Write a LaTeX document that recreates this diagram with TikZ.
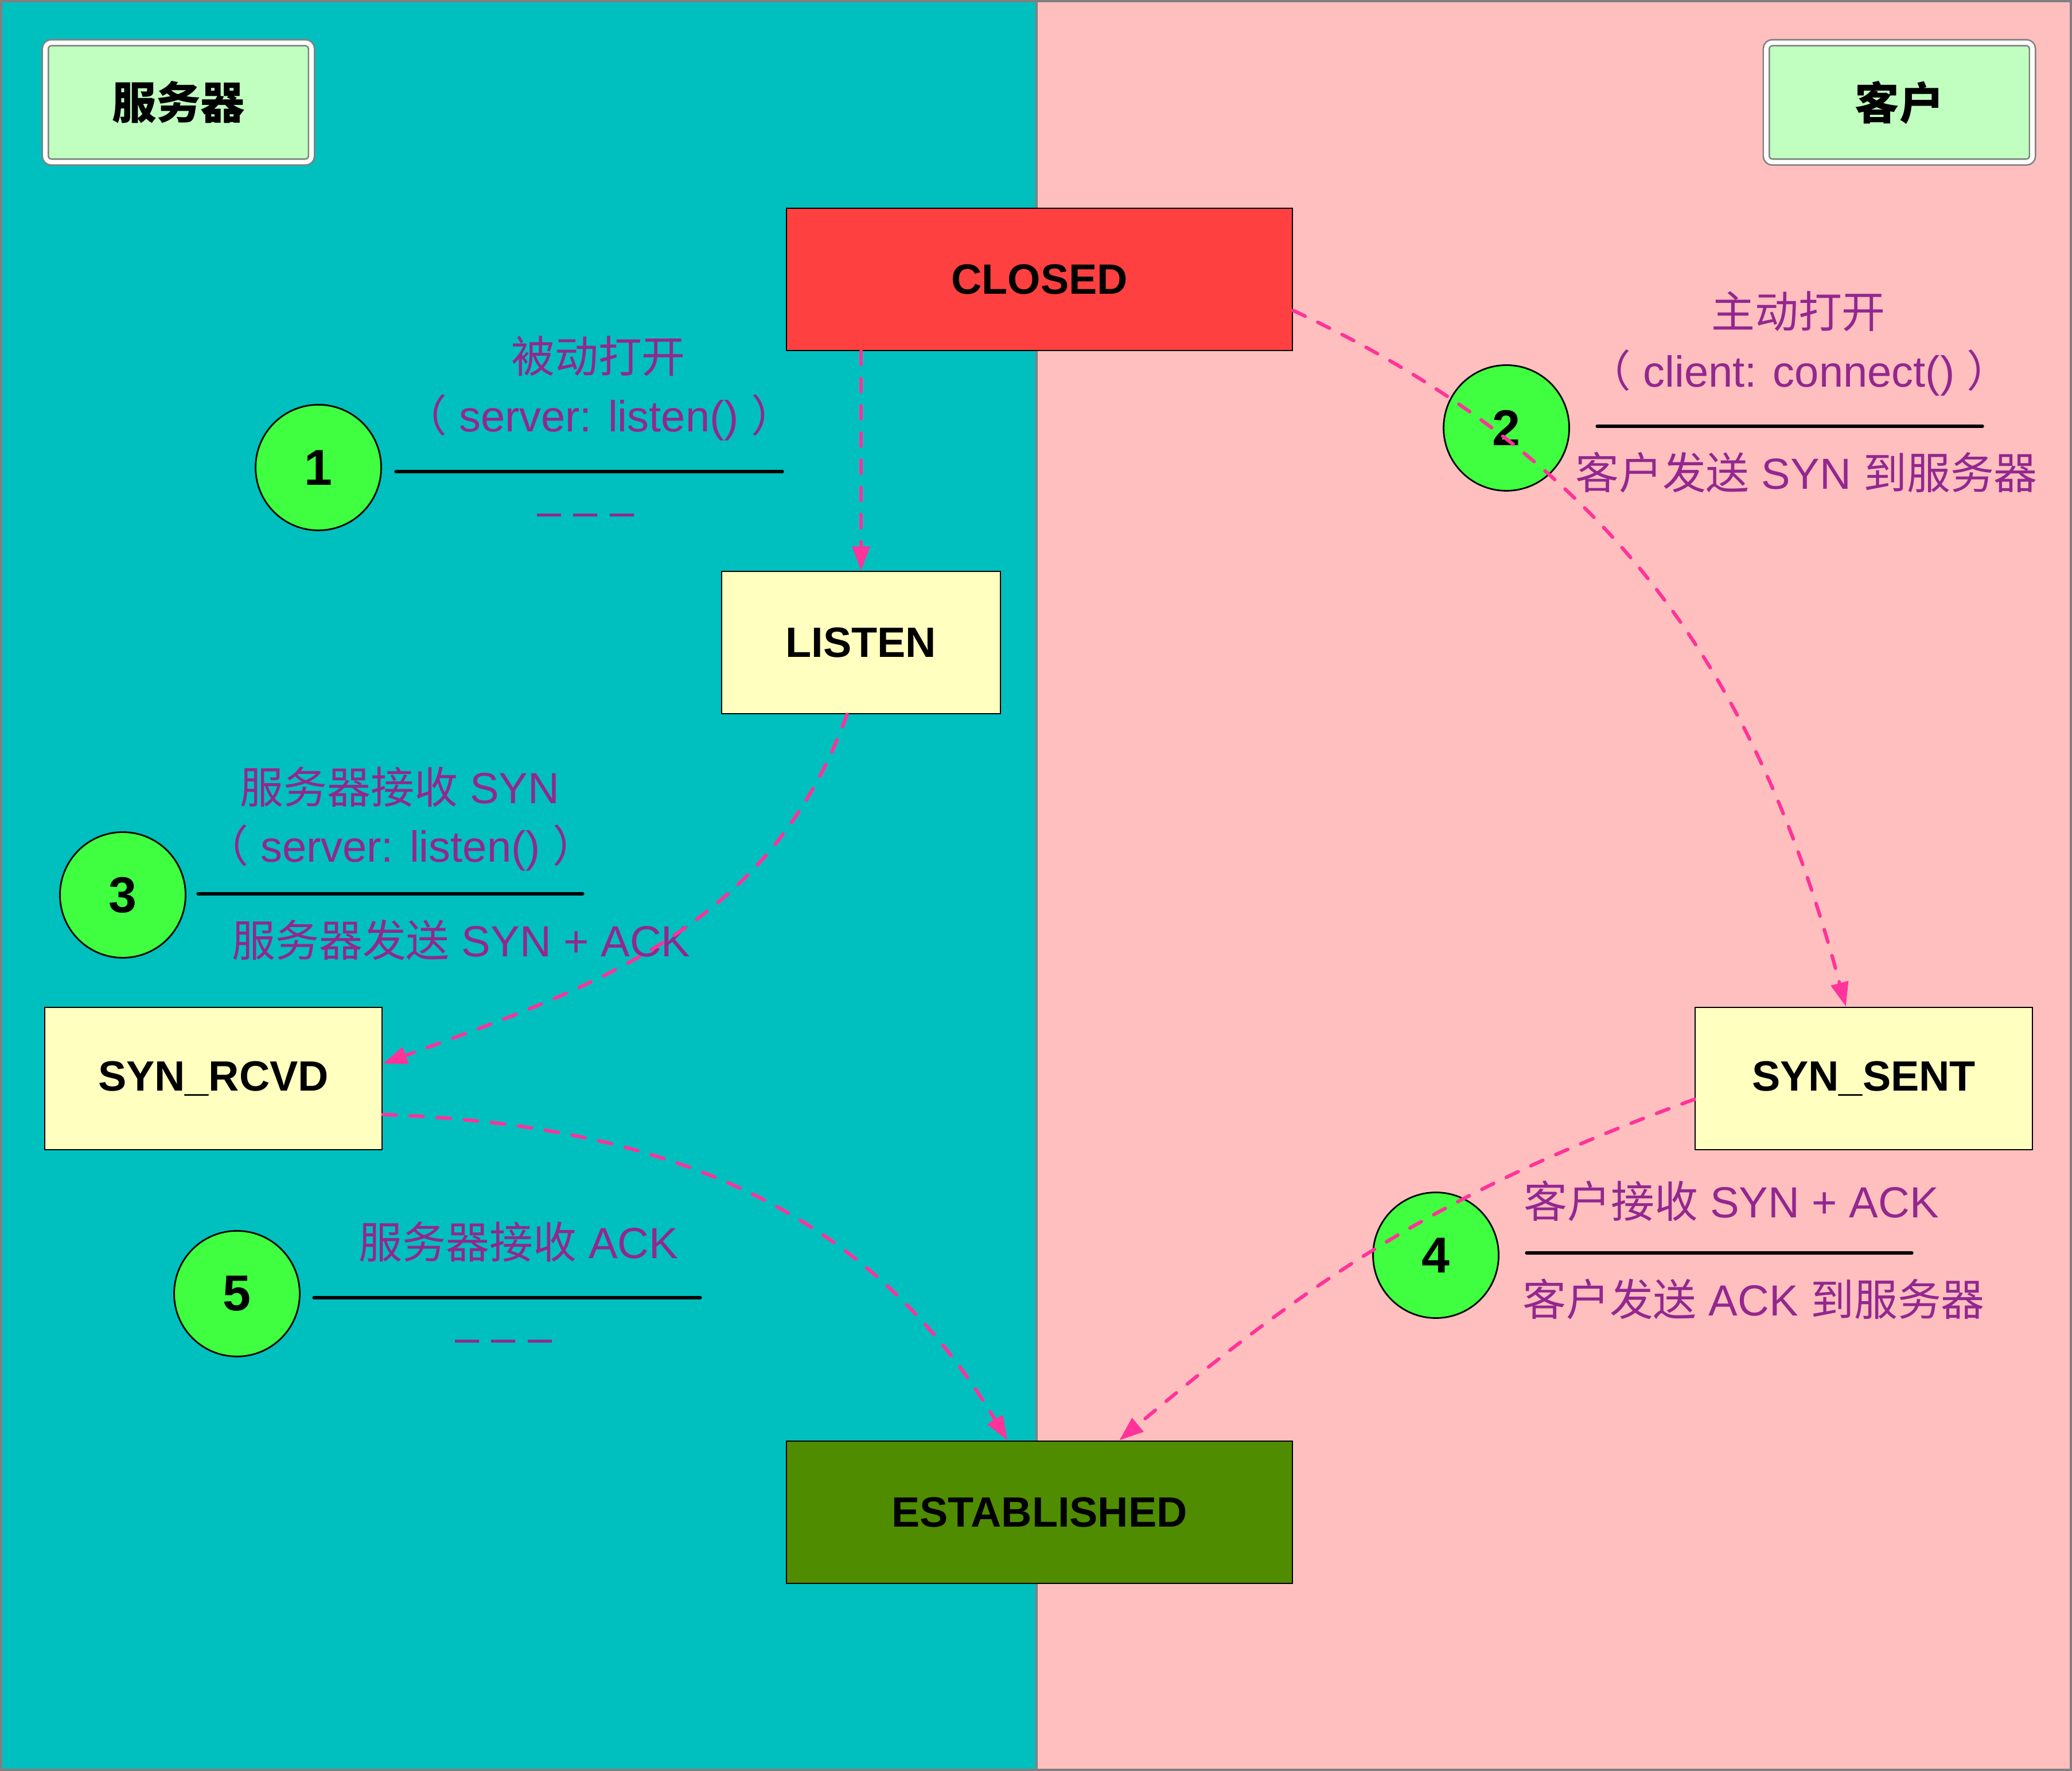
\documentclass[tikz,border=0pt]{standalone}
\usepackage{fontspec}
\setmainfont{Liberation Sans}
\newfontfamily\cjkfont{Noto Sans CJK SC}
\newcommand\zh[1]{{\cjkfont #1}}
\usetikzlibrary{arrows.meta}
\definecolor{serverbg}{RGB}{0,191,191}
\definecolor{clientbg}{RGB}{255,191,191}
\definecolor{tagfill}{RGB}{192,255,192}
\definecolor{closedred}{RGB}{255,64,64}
\definecolor{statefill}{RGB}{255,255,192}
\definecolor{estgreen}{RGB}{80,140,0}
\definecolor{numgreen}{RGB}{64,255,64}
\definecolor{notepurple}{RGB}{147,39,143}
\definecolor{transpink}{RGB}{255,51,153}

\begin{document}
\begin{tikzpicture}[
    statebox/.style={draw=black, line width=0.8pt, inner sep=0pt, minimum height=2.48cm, font=\fontsize{21pt}{25pt}\selectfont\bfseries},
    sidebox/.style={draw=gray, line width=0.75pt, double=white, double distance=2.2pt, rounded corners=3pt, fill=tagfill, minimum width=4.64cm, minimum height=2.08cm, font=\fontsize{22pt}{26pt}\selectfont\bfseries},
    stepnum/.style={circle, draw=black, line width=0.8pt, fill=numgreen, minimum size=2.19cm, inner sep=0pt, font=\fontsize{25pt}{30pt}\selectfont\bfseries},
    notetext/.style={text=notepurple, inner sep=0pt, font=\fontsize{21.6pt}{26pt}\selectfont},
    sepline/.style={line width=1.5pt, line cap=round},
    transline/.style={draw=transpink, line width=1.75pt, line cap=round, dash pattern=on 6.5pt off 7pt, -{Triangle[length=12pt, width=8.6pt]}}
]
    \useasboundingbox (0,0) rectangle (36.12,30.87);
    %Panels
    \fill[serverbg] (0,0) rectangle (18.07,30.87);
    \fill[clientbg] (18.07,0) rectangle (36.12,30.87);
    \draw[gray, line width=0.9pt] (18.07,0) -- (18.07,30.87);
    \draw[gray, line width=1.2pt] (0.02,0.02) rectangle (36.10,30.85);

    %Sides
    \node[sidebox] (server) at (3.11,29.085) {\zh{服务器}};
    \node[sidebox] (client) at (33.11,29.085) {\zh{客户}};

    %States
    \node[statebox, fill=closedred, minimum width=8.82cm] (closed) at (18.12,26.00) {CLOSED};
    \node[statebox, fill=statefill, minimum width=4.86cm] (listen) at (15.01,19.67) {LISTEN};
    \node[statebox, fill=statefill, minimum width=5.88cm] (synrcvd) at (3.72,12.07) {SYN\_RCVD};
    \node[statebox, fill=statefill, minimum width=5.88cm] (synsent) at (32.49,12.07) {SYN\_SENT};
    \node[statebox, fill=estgreen, minimum width=8.82cm] (established) at (18.12,4.51) {ESTABLISHED};

    %Steps
    \node[stepnum] (one) at (5.55,22.72) {1};
    \node[stepnum] (two) at (26.26,23.41) {2};
    \node[stepnum] (three) at (2.14,15.27) {3};
    \node[stepnum] (four) at (25.03,8.99) {4};
    \node[stepnum] (five) at (4.13,8.32) {5};

    %Step 1
    \node[notetext] (pasv) at (10.43,24.66) {\zh{被动打开}};
    \node[notetext] (pasvcall) at (10.44,23.59) {\zh{（} server: listen() \zh{）}};
    \draw[sepline] (6.90,22.65) -- (13.64,22.65);
    \node[notetext, anchor=base] (pasvsend) at (10.21,21.69) {– – –};

    %Step 2
    \node[notetext] (actv) at (31.35,25.44) {\zh{主动打开}};
    \node[notetext] (actvcall) at (31.36,24.37) {\zh{（} client: connect() \zh{）}};
    \draw[sepline] (27.84,23.44) -- (34.56,23.44);
    \node[notetext] (actvsend) at (31.49,22.63) {\zh{客户发送} SYN \zh{到服务器}};

    %Step 3
    \node[notetext] (synrecv) at (6.97,17.15) {\zh{服务器接收} SYN};
    \node[notetext] (synrecvcall) at (6.98,16.09) {\zh{（} server: listen() \zh{）}};
    \draw[sepline] (3.45,15.29) -- (10.16,15.29);
    \node[notetext] (synrecvsend) at (8.04,14.48) {\zh{服务器发送} SYN + ACK};

    %Step 4
    \node[notetext] (synackrecv) at (30.18,9.93) {\zh{客户接收} SYN + ACK};
    \draw[sepline] (26.61,9.03) -- (33.33,9.03);
    \node[notetext] (acksend) at (30.57,8.22) {\zh{客户发送} ACK \zh{到服务器}};

    %Step 5
    \node[notetext] (ackrecv) at (9.04,9.22) {\zh{服务器接收} ACK};
    \draw[sepline] (5.47,8.25) -- (12.21,8.25);
    \node[notetext, anchor=base] (ackrecvsend) at (8.78,7.29) {– – –};

    %Transitions
    \draw[transline] (closed.south -| listen.north) -- (listen.north);
    \draw[transline] (closed.-7) to[out=-25, in=105] (synsent.104.8);
    \draw[transline] (listen.259) to[out=250, in=20] (synrcvd.5);
    \draw[transline] (synrcvd.-12) to[out=-2, in=121] (established.114.6);
    \draw[transline] (synsent.187.6) to[out=200, in=40] (established.42.3);
\end{tikzpicture}
\end{document}
